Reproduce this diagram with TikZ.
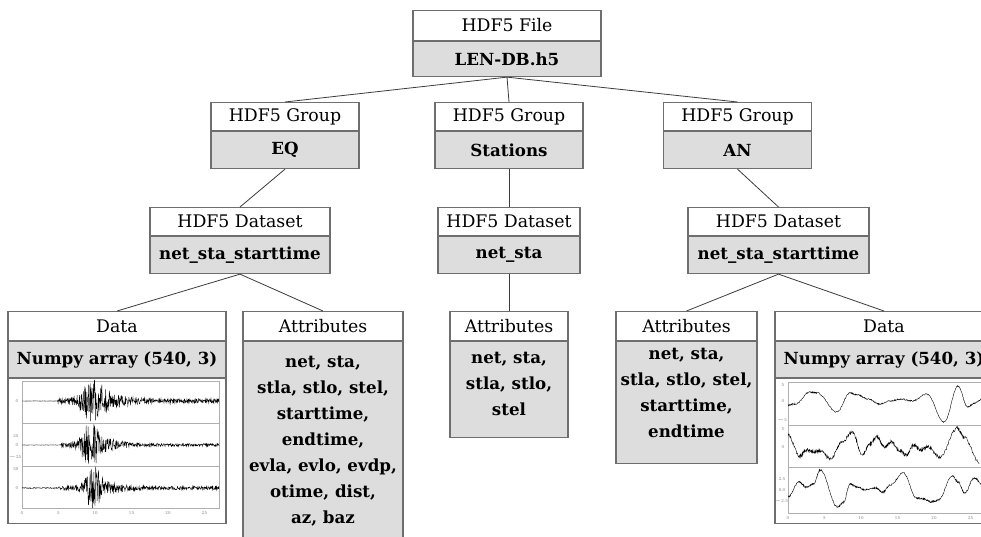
\documentclass[tikz,border=0pt]{standalone}
\usepackage{fontspec}
\setmainfont{DejaVu Serif}
\definecolor{boxline}{RGB}{110,110,110}
\definecolor{boxfill}{RGB}{221,221,221}
\definecolor{connc}{RGB}{60,60,60}
\definecolor{framec}{RGB}{175,175,175}
\tikzset{
 hdr/.style={draw=boxline, line width=0.8pt, fill=white, inner sep=0pt, anchor=north, font=\fontsize{13}{15}\selectfont},
 bdy/.style={draw=boxline, line width=0.8pt, fill=boxfill, inner sep=0pt, anchor=north, font=\fontsize{12.5}{14}\selectfont\bfseries},
 imgbox/.style={draw=boxline, line width=0.8pt, fill=white, inner sep=0pt, anchor=north},
 attrtext/.style={align=center, inner sep=0pt, font=\fontsize{12.5}{19.5}\selectfont\bfseries},
 conn/.style={draw=connc, line width=0.6pt},
 plotframe/.style={draw=framec, line width=0.4pt},
 trace/.style={line width=0.3pt, black},
 ticklab/.style={font=\fontsize{3}{3}\selectfont, text=gray, inner sep=0.3pt},
}
\newcommand\smoothtrace[3]{%
 \foreach \tb/\vb [remember=\tb as \ta (initially 0), remember=\vb as \va (initially #1)] in {#3}
  \draw[trace] plot[domain=\ta:\tb, samples=28] (\x, {(\va)+((\vb)-(\va))*(1-cos(180*(\x-\ta)/(\tb-\ta)))/2+#2*rand});
}
\begin{document}
\begin{tikzpicture}[x=0.75pt, y=-0.75pt,
 declare function={
  envA(\x)=0.12+(\x>4.8)*(1.8+17/(1+(min(abs(\x-9.6),10)/1.6)^4)+5/(1+(min(abs(\x-12.5),10)/2.2)^2));
  envB(\x)=0.10+(\x>5.3)*(1.1+18/(1+(min(abs(\x-9.3),10)/1.2)^4)+5/(1+(min(abs(\x-11.8),10)/2.0)^2));
  envC(\x)=0.5+(\x>5.0)*(1.1+18/(1+(min(abs(\x-9.7),10)/1.1)^4)+4/(1+(min(abs(\x-12.0),10)/2.0)^2));
 }]
\pgfmathsetseed{4242}
\useasboundingbox (0,0) rectangle (981,536);
\clip (0,0) rectangle (981,536);
\fill[white] (0,0) rectangle (981,536);

% level 1
\node[hdr, minimum width=141pt, minimum height=22.5pt] (fileh) at (507,10) {HDF5 File};
\node[bdy, minimum width=141pt, minimum height=26.25pt] (file) at (fileh.south) {LEN-DB.h5};

% level 2
\node[hdr, minimum width=111pt, minimum height=21pt] (geqh) at (285,102) {HDF5 Group};
\node[bdy, minimum width=111pt, minimum height=27.75pt] (geq) at (geqh.south) {EQ};
\node[hdr, minimum width=111pt, minimum height=21pt] (gsth) at (509,102) {HDF5 Group};
\node[bdy, minimum width=111pt, minimum height=27.75pt] (gst) at (gsth.south) {Stations};
\node[hdr, minimum width=111pt, minimum height=21pt] (ganh) at (737.5,102) {HDF5 Group};
\node[bdy, minimum width=111pt, minimum height=27.75pt] (gan) at (ganh.south) {AN};

% level 3
\node[hdr, minimum width=135pt, minimum height=21pt] (deqh) at (240,207) {HDF5 Dataset};
\node[bdy, minimum width=135pt, minimum height=27.75pt] (deq) at (deqh.south) {net\_sta\_starttime};
\node[hdr, minimum width=106.5pt, minimum height=21pt] (dsth) at (509,207) {HDF5 Dataset};
\node[bdy, minimum width=106.5pt, minimum height=27.75pt] (dst) at (dsth.south) {net\_sta};
\node[hdr, minimum width=135.75pt, minimum height=21pt] (danh) at (778.5,207) {HDF5 Dataset};
\node[bdy, minimum width=135.75pt, minimum height=27.75pt] (dan) at (danh.south) {net\_sta\_starttime};

% level 4
\node[hdr, minimum width=163.5pt, minimum height=21.75pt] (dlh) at (117,311) {Data};
\node[bdy, minimum width=163.5pt, minimum height=27pt] (dl) at (dlh.south) {Numpy array (540, 3)};
\node[imgbox, minimum width=163.5pt, minimum height=108.75pt] (dlimg) at (dl.south) {};

\node[hdr, minimum width=120pt, minimum height=21.75pt] (aeqh) at (323,311) {Attributes};
\node[bdy, minimum width=120pt, minimum height=152pt] (aeq) at (aeqh.south) {};
\node[attrtext] (aeqt) at (323,441.5) {net, sta,\\stla, stlo, stel,\\starttime,\\endtime,\\evla, evlo, evdp,\\otime, dist,\\az, baz};

\node[hdr, minimum width=88.5pt, minimum height=21.75pt] (asth) at (509,311) {Attributes};
\node[bdy, minimum width=88.5pt, minimum height=72pt] (ast) at (asth.south) {};
\node[attrtext] (astt) at (509,384) {net, sta,\\stla, stlo,\\stel};

\node[hdr, minimum width=105.75pt, minimum height=21.75pt] (aanh) at (686.5,311) {Attributes};
\node[bdy, minimum width=105.75pt, minimum height=91.5pt] (aan) at (aanh.south) {};
\node[attrtext] (aant) at (686.5,393) {net, sta,\\stla, stlo, stel,\\starttime,\\endtime};

\node[hdr, minimum width=163.5pt, minimum height=21.75pt] (drh) at (884,311) {Data};
\node[bdy, minimum width=163.5pt, minimum height=27pt] (dr) at (drh.south) {Numpy array (540, 3)};
\node[imgbox, minimum width=163.5pt, minimum height=108.75pt] (drimg) at (dr.south) {};

% connectors
\draw[conn] (file.south) -- (geqh.north);
\draw[conn] (file.south) -- (gsth.north);
\draw[conn] (file.south) -- (ganh.north);
\draw[conn] (geq.south) -- (deqh.north);
\draw[conn] (gst.south) -- (dsth.north);
\draw[conn] (gan.south) -- (danh.north);
\draw[conn] (deq.south) -- (dlh.north);
\draw[conn] (deq.south) -- (aeqh.north);
\draw[conn] (dst.south) -- (asth.north);
\draw[conn] (dan.south) -- (aanh.north);
\draw[conn] (dan.south) -- (drh.north);

% left waveform plot
\draw[plotframe] (22,381) rectangle (219,508);
\draw[plotframe] (22,423) -- (219,423) (22,466) -- (219,466);
\begin{scope}[xshift=16.5pt, yshift=-300.75pt, x=5.475pt, y=0.75pt]
 \draw[trace] plot[domain=0:27, samples=541] (\x, {envA(\x)*rand});
\end{scope}
\begin{scope}[xshift=16.5pt, yshift=-333.75pt, x=5.475pt, y=0.75pt]
 \draw[trace] plot[domain=0:27, samples=541] (\x, {envB(\x)*rand});
\end{scope}
\begin{scope}[xshift=16.5pt, yshift=-366pt, x=5.475pt, y=0.75pt]
 \draw[trace] plot[domain=0:27, samples=541] (\x, {envC(\x)*rand});
\end{scope}
\foreach \v/\p in {0/22,5/58.5,10/95,15/131.5,20/168,25/204.5}
  \node[ticklab] (ltick\v) at (\p,513) {\v};
\node[ticklab] (ly1) at (17,401) {0};
\node[ticklab] (ly2) at (16,436) {25};
\node[ticklab] (ly3) at (17,445) {0};
\node[ticklab] (ly4) at (15,457) {$-$25};
\node[ticklab] (ly5) at (16,469) {50};
\node[ticklab] (ly6) at (17,488) {0};

% right waveform plot
\draw[plotframe] (788,382) rectangle (1000,513);
\draw[plotframe] (788,425) -- (1000,425) (788,467) -- (1000,467);
\begin{scope}[xshift=591pt, yshift=-300.75pt, x=5.475pt, y=0.75pt]
 \smoothtrace{-4}{0.7}{1/-3, 3/9, 4/8, 6.7/-11, 8.5/8, 9.5/6, 11/2, 12.5/-3, 14/0, 15.5/2, 17/0, 19/7, 21.4/-21, 23.3/15, 24.6/-6, 25.6/-2, 26.8/3}
\end{scope}
\begin{scope}[xshift=591pt, yshift=-335.25pt, x=5.475pt, y=0.75pt]
 \smoothtrace{12}{1.6}{1.6/-9, 2.5/-3, 3.5/-5, 4.5/-4, 5.8/-12, 7.4/5, 8.8/15, 10.2/-8, 11.2/3, 12.2/10, 13.2/0, 14.2/5, 15.2/-3, 16.2/-8, 17.2/2, 18.2/-3, 19.2/0, 20.8/-10, 23.2/19, 24.1/10, 26.2/-15}
\end{scope}
\begin{scope}[xshift=591pt, yshift=-367.5pt, x=5.475pt, y=0.75pt]
 \smoothtrace{-7}{0.9}{1.5/8, 2.5/3, 3.5/6, 4.4/20, 6.8/-17, 7.6/-12, 8.5/6, 9.5/3, 10.5/0, 12/2, 13/-2, 14/5, 15.8/17, 17.6/-8, 18.6/-9, 19.6/-12, 20.6/-10, 22.5/14, 23.3/8, 24.2/-3, 25.5/12, 26.8/5}
\end{scope}
\foreach \v/\p in {0/788,5/824.5,10/861,15/897.5,20/934,25/970.5}
  \node[ticklab] (rtick\v) at (\p,518) {\v};
\node[ticklab] (ry1) at (783,385) {5};
\node[ticklab] (ry2) at (783,401) {0};
\node[ticklab] (ry3) at (782,420) {$-$5};
\node[ticklab] (ry4) at (783,429) {5};
\node[ticklab] (ry5) at (783,447) {0};
\node[ticklab] (ry6) at (782,479) {2.5};
\node[ticklab] (ry7) at (782,490) {0.0};
\node[ticklab] (ry8) at (781,501) {$-$2.5};
\end{tikzpicture}
\end{document}
